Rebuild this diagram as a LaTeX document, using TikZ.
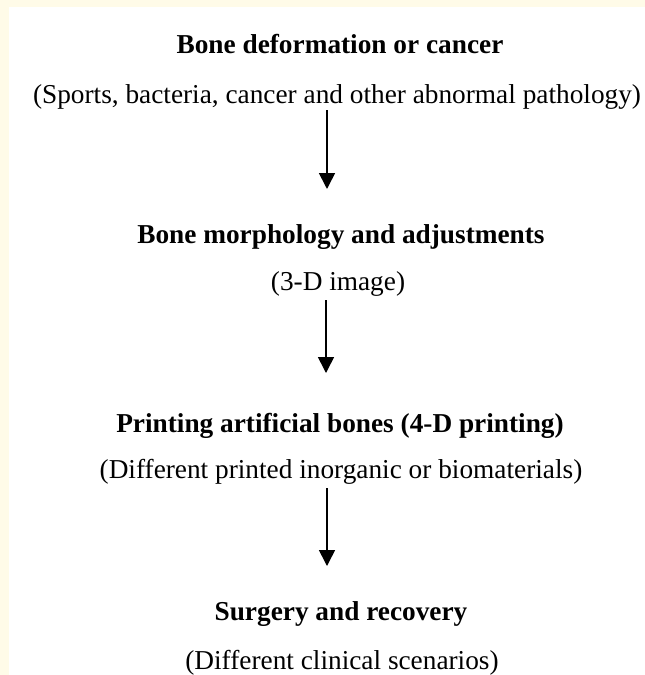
\documentclass[tikz,border=0pt]{standalone}
\usepackage{fontspec}
\setmainfont{Liberation Serif}
\usepackage{tikz}
\usetikzlibrary{arrows.meta}
\definecolor{creamedge}{RGB}{255,251,232}
\tikzset{
  steptitle/.style = {anchor=base, inner sep=0pt,
                      font=\fontsize{27.3}{32}\selectfont\bfseries},
  stepnote/.style  = {anchor=base, inner sep=0pt,
                      font=\fontsize{27.3}{32}\selectfont},
  flowarrow/.style = {line width=1.6pt,
                      -{Triangle[width=16pt,length=16pt]}}
}

\begin{document}
\begin{tikzpicture}[x=1pt,y=-1pt]
  % page and cream edge
  \fill[creamedge] (0,0) rectangle (645,675);
  \fill[white] (9,7) rectangle (645,675);
  \useasboundingbox (0,0) rectangle (645,675);

  \node[steptitle] (cause)     at (340,53)  {Bone deformation or cancer};
  \node[stepnote]  (causenote) at (337,103) {(Sports, bacteria, cancer and other abnormal pathology)};

  \node[steptitle] (morph)     at (341,243) {Bone morphology and adjustments};
  \node[stepnote]  (morphnote) at (338,290) {(3-D image)};

  \node[steptitle] (print)     at (340,432) {Printing artificial bones (4-D printing)};
  \node[stepnote]  (printnote) at (341,478) {(Different printed inorganic or biomaterials)};

  \node[steptitle] (surgery)   at (341,620) {Surgery and recovery};
  \node[stepnote]  (surgnote)  at (342,669) {(Different clinical scenarios)};

  % arrows between the steps
  \coordinate (a1) at (327,110);  \coordinate (b1) at (327,189);
  \coordinate (a2) at (326,300);  \coordinate (b2) at (326,373);
  \coordinate (a3) at (327,488);  \coordinate (b3) at (327,566);
  \draw[flowarrow] (a1) -- (b1);
  \draw[flowarrow] (a2) -- (b2);
  \draw[flowarrow] (a3) -- (b3);
\end{tikzpicture}
\end{document}
